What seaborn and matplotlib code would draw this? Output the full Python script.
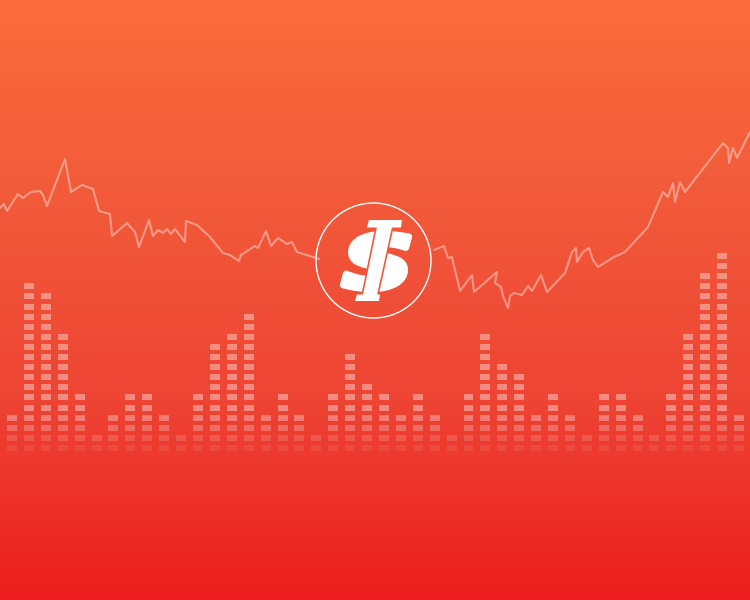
import numpy as np
import pandas as pd
import seaborn as sns
import matplotlib.pyplot as plt
from matplotlib.colors import LinearSegmentedColormap
from matplotlib.patches import Circle, Polygon, PathPatch
from matplotlib.textpath import TextPath
from matplotlib.font_manager import FontProperties
from matplotlib.transforms import Affine2D

# Price line, left of the logo (x = day position, y = screen level, top = 0).
line_left_x = [0, 4, 7, 18, 23, 31, 40, 43, 47, 65, 71, 82, 93, 99, 110, 112, 127, 135, 139, 149,
               153, 158, 163, 167, 171, 175, 185, 186, 197, 210, 223, 230, 239, 241, 255, 258, 266,
               271, 278, 287, 292, 297, 313, 319]
line_left_y = [208, 204, 211, 194, 198, 192, 191, 195, 206, 159, 192, 185, 189, 211, 214, 236, 223,
               232, 247, 220, 236, 230, 233, 229, 234, 229, 242, 221, 225, 237, 253, 255, 261, 255,
               246, 248, 231, 246, 238, 244, 242, 252, 257, 259]

# Price line, right of the logo.
line_right_x = [434, 444, 448, 452, 453, 458, 460, 472, 474, 497, 495, 501, 503, 508, 510, 514, 522,
                528, 532, 541, 547, 565, 572, 576, 577, 583, 589, 593, 598, 614, 625, 648, 663, 668,
                673, 675, 680, 685, 723, 728, 729, 733, 737, 750]
line_right_y = [250, 246, 258, 257, 262, 282, 291, 275, 292, 272, 283, 287, 296, 308, 296, 293, 295,
                286, 291, 275, 292, 273, 252, 248, 262, 252, 248, 260, 267, 257, 252, 227, 192, 197,
                183, 202, 182, 192, 143, 148, 163, 148, 158, 132]

# Equalizer columns: number of lit segments per column.
segment_counts = [4, 17, 16, 12, 6, 2, 4, 6, 6, 4, 2, 6, 11, 12, 14, 4, 6, 4, 2, 6, 10, 7, 6, 4,
                  6, 4, 2, 6, 12, 9, 8, 4, 6, 4, 2, 6, 6, 4, 2, 6, 12, 18, 20, 4]
# Segment brightness by row (bottom rows fade out).
row_alpha = [0.08, 0.15, 0.24, 0.32] + [0.38] * 16

bg_colors = ["#FB6C3C", "#F25A3A", "#EE4434", "#EC1E1F"]

sns.set_theme(style="white")

fig = plt.figure(figsize=(7.5, 6), dpi=100)
ax = fig.add_axes([0, 0, 1, 1])
ax.set_xlim(0, 750)
ax.set_ylim(600, 0)
ax.axis("off")

# Vertical gradient background.
cmap = LinearSegmentedColormap.from_list("bg", bg_colors)
grad = np.linspace(0, 1, 600).reshape(-1, 1)
ax.imshow(grad, cmap=cmap, aspect="auto", extent=(0, 750, 600, 0), zorder=0)

# Price line in two pieces around the logo.
for lx, ly in [(line_left_x, line_left_y), (line_right_x, line_right_y)]:
    sns.lineplot(x=lx, y=ly, ax=ax, sort=False, estimator=None, color="white",
                 alpha=0.4, linewidth=1.5, zorder=2)

# Equalizer bars drawn as stacked segments.
ax_bars = fig.add_axes([0, 0.245, 1, 0.3367])
ax_bars.patch.set_alpha(0)
ax_bars.set_xlim(-0.71, 43.65)
ax_bars.set_ylim(0, 20)
ax_bars.axis("off")
counts = np.array(segment_counts)
cols = np.arange(len(counts))
for k, a in enumerate(row_alpha):
    lit = cols[counts > k]
    if len(lit) == 0:
        continue
    ax_bars.bar(lit, 0.6, bottom=k + 0.2, width=0.59, color="white", alpha=a, linewidth=0)

# Logo: outlined circle with a stylised dollar sign.
ax.add_patch(Circle((373.5, 260.5), 57.5, fill=False, edgecolor="white", linewidth=1.0, zorder=3))

tp = TextPath((0, 0), "S", size=100,
              prop=FontProperties(family="DejaVu Sans", weight="bold", style="oblique"))
bb = tp.get_extents()
tr = Affine2D().translate(-bb.x0, -bb.y0).scale(66 / bb.width, -55 / bb.height).translate(343, 289)
ax.add_patch(PathPatch(tr.transform_path(tp), facecolor="white", edgecolor="white",
                       linewidth=4.5, joinstyle="round", zorder=4))

stem_color = "#F05A3B"
stem_pts = [(377, 227), (392, 227), (377, 295), (363, 295)]
ax.add_patch(Polygon(stem_pts, closed=True, facecolor="white", edgecolor=stem_color,
                     linewidth=2.4, zorder=5))
# Repaint the stem inside its outline so only the gap against the S remains.
ax.add_patch(Polygon(stem_pts, closed=True, facecolor="white", edgecolor="none", zorder=6))
top_bar = Polygon([(369, 220), (402, 220), (401, 227.5), (367, 227.5)], closed=True,
                  facecolor="white", edgecolor="none", zorder=6)
ax.add_patch(top_bar)
foot = Polygon([(357, 294.5), (380, 294.5), (379, 301), (355, 301)], closed=True,
               facecolor="white", edgecolor="none", zorder=6)
ax.add_patch(foot)

fig.savefig("out.png", dpi=100)
